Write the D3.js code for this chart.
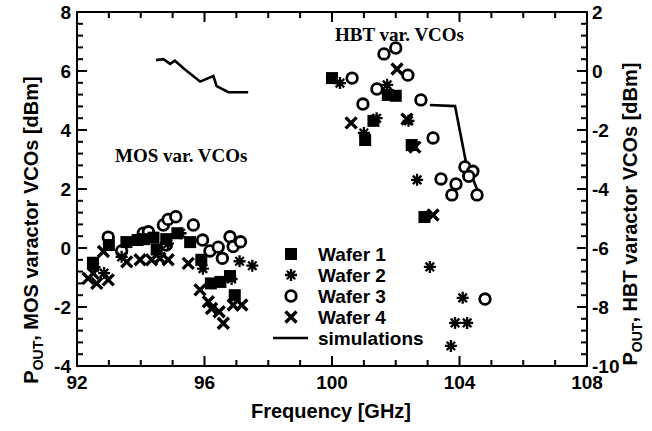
<!DOCTYPE html>
<html>
<head>
<meta charset="utf-8">
<script src="https://cdn.jsdelivr.net/npm/d3@7"></script>
<style>
  body { margin: 0; background: #fff; }
  svg { display: block; }
  .tick-label { font-family: "Liberation Sans", Arial, sans-serif; font-weight: bold; font-size: 19px; }
  .title { font-family: "Liberation Sans", Arial, sans-serif; font-weight: bold; font-size: 20px; }
  .note { font-family: "Liberation Serif", "Times New Roman", serif; font-weight: bold; font-size: 19px; }
</style>
</head>
<body>
<script>
"use strict";

const WIDTH = 652
const HEIGHT = 431

// MOS varactor VCOs (left axis) [GHz, dBm]
const mos_wafer1 = [[92.5,-0.5],[93.0,0.1],[93.55,0.2],[93.9,0.27],[94.1,0.3],[94.4,0.35],[94.5,-0.05],[94.8,0.3],[95.15,0.5],[95.55,0.2],[95.9,-0.4],[96.2,-1.2],[96.5,-1.15],[96.8,-0.95],[96.95,-1.6]]
const mos_wafer2 = [[92.55,-0.65],[92.85,-0.85],[93.4,-0.3],[94.85,0.15],[95.25,0.5],[95.95,-0.7],[96.85,-1.05],[97.1,-0.45],[97.5,-0.6]]
const mos_wafer3 = [[92.98,0.37],[93.4,-0.1],[94.08,0.5],[94.24,0.55],[94.71,0.78],[94.86,0.97],[95.1,1.06],[94.8,0.1],[95.65,0.78],[95.94,0.27],[96.17,-0.1],[96.43,0.03],[96.56,-0.35],[96.8,0.38],[96.9,0.05],[97.13,0.21]]
const mos_wafer4 = [[92.51,-0.86],[92.62,-1.2],[92.98,-1.08],[92.35,-1.03],[92.83,-0.12],[93.56,-0.47],[93.98,-0.4],[94.34,-0.4],[94.6,-0.35],[94.86,-0.4],[95.49,-0.52],[95.86,-1.42],[96.12,-1.82],[96.22,-2.05],[96.46,-2.16],[96.59,-2.55],[96.9,-1.93],[97.17,-1.93]]
const mos_sim = [[94.48,6.37],[94.71,6.4],[94.92,6.24],[95.07,6.35],[95.34,6.09],[95.86,5.64],[96.28,5.83],[96.38,5.49],[96.75,5.28],[97.37,5.28]]

// HBT varactor VCOs (right axis) [GHz, dBm]
const hbt_wafer1 = [[100.0,-0.24],[101.04,-2.34],[101.75,-0.81],[102.0,-0.84],[101.3,-1.69],[102.5,-2.51],[102.9,-4.95]]
const hbt_wafer2 = [[100.25,-0.41],[101.73,-0.47],[101.4,-1.6],[101.0,-2.1],[102.4,-1.69],[102.67,-3.69],[103.07,-6.64],[104.1,-7.69],[103.86,-8.54],[104.24,-8.54],[103.73,-9.32]]
const hbt_wafer3 = [[100.63,-0.24],[100.97,-1.12],[101.41,-0.61],[101.63,0.58],[102.0,0.78],[102.38,-0.14],[102.79,-0.98],[103.17,-2.27],[103.42,-3.66],[104.17,-3.25],[104.42,-3.4],[104.29,-3.57],[103.89,-3.83],[103.76,-4.2],[104.55,-4.2],[104.8,-7.73]]
const hbt_wafer4 = [[100.6,-1.76],[102.04,0.07],[102.35,-1.63],[102.6,-2.58],[103.17,-4.88]]
const hbt_sim = [[103.07,-1.15],[103.86,-1.19],[104.2,-3.08],[104.64,-4.24]]

const x_ticks = [92, 96, 100, 104, 108]
const left_ticks = [-4, -2, 0, 2, 4, 6, 8]
const right_ticks = [-10, -8, -6, -4, -2, 0, 2]
const legend_labels = ["Wafer 1", "Wafer 2", "Wafer 3", "Wafer 4", "simulations"]

const margin = { left: 77, right: 65, top: 12, bottom: 65 }
const x = d3.scaleLinear().domain([92, 108]).range([margin.left, WIDTH - margin.right])
const yl = d3.scaleLinear().domain([-4, 8]).range([HEIGHT - margin.bottom, margin.top])
const yr = d3.scaleLinear().domain([-10, 2]).range([HEIGHT - margin.bottom, margin.top])

const svg = d3.select("body").append("svg")
    .attr("width", WIDTH)
    .attr("height", HEIGHT)

// frame
svg.append("rect")
    .attr("x", x(92)).attr("y", yl(8))
    .attr("width", x(108) - x(92)).attr("height", yl(-4) - yl(8))
    .attr("fill", "none").attr("stroke", "#000").attr("stroke-width", 2)

// inward ticks, minor ones included
function ticks(axis, scale, major, minorStep) {
    const [a, b] = scale.domain()
    const n = Math.round((b - a) / minorStep)
    const vals = d3.range(n + 1).map(i => a + i * minorStep)
    const g = svg.append("g").attr("stroke", "#000").attr("stroke-width", 2)
    vals.forEach(v => {
        const isMajor = major.some(m => Math.abs(m - v) < 1e-6)
        const len = isMajor ? 10 : 6
        const p = scale(v)
        if (axis == "bottom") g.append("line").attr("x1", p).attr("x2", p).attr("y1", yl(-4)).attr("y2", yl(-4) - len)
        if (axis == "top") g.append("line").attr("x1", p).attr("x2", p).attr("y1", yl(8)).attr("y2", yl(8) + len)
        if (axis == "left") g.append("line").attr("y1", p).attr("y2", p).attr("x1", x(92)).attr("x2", x(92) + len)
        if (axis == "right") g.append("line").attr("y1", p).attr("y2", p).attr("x1", x(108)).attr("x2", x(108) - len)
    })
}
ticks("bottom", x, x_ticks, 1)
ticks("top", x, x_ticks, 1)
ticks("left", yl, left_ticks, 0.4)
ticks("right", yr, right_ticks, 0.4)

// tick labels
svg.append("g").selectAll("text").data(x_ticks).join("text")
    .attr("class", "tick-label")
    .attr("x", d => x(d)).attr("y", 389)
    .attr("text-anchor", "middle")
    .text(d => d)
svg.append("g").selectAll("text").data(left_ticks).join("text")
    .attr("class", "tick-label")
    .attr("x", 71).attr("y", d => yl(d) + 7)
    .attr("text-anchor", "end")
    .text(d => d)
svg.append("g").selectAll("text").data(right_ticks).join("text")
    .attr("class", "tick-label")
    .attr("x", 592).attr("y", d => yr(d) + 7)
    .attr("text-anchor", "start")
    .text(d => d)

// axis titles
svg.append("text")
    .attr("class", "title")
    .attr("x", x(100) - 1).attr("y", 418)
    .attr("text-anchor", "middle")
    .text("Frequency [GHz]")

function yTitle(cx, cy, label) {
    const t = svg.append("text")
        .attr("class", "title")
        .attr("transform", `translate(${cx},${cy}) rotate(-90)`)
        .attr("text-anchor", "middle")
    t.append("tspan").text("P")
    t.append("tspan").attr("font-size", 14).attr("dy", 5).text("OUT")
    t.append("tspan").attr("dy", -5).text(", " + label + " [dBm]")
}
yTitle(38, 230, "MOS varactor VCOs")
yTitle(637, 214, "HBT varactor VCOs")

// annotations
svg.append("text").attr("class", "note")
    .attr("x", 115).attr("y", 162)
    .text("MOS var. VCOs")
svg.append("text").attr("class", "note")
    .attr("x", 335).attr("y", 41)
    .text("HBT var. VCOs")

// markers
const markers = {
    square: g => g.append("rect").attr("x", -6).attr("y", -6).attr("width", 12).attr("height", 12).attr("fill", "#000"),
    star: g => {
        const s = 6, d = s * Math.SQRT1_2
        g.append("path")
            .attr("d", `M${-s},0L${s},0M0,${-s}L0,${s}M${-d},${-d}L${d},${d}M${-d},${d}L${d},${-d}`)
            .attr("stroke", "#000").attr("stroke-width", 2.3).attr("fill", "none")
    },
    circle: g => g.append("circle").attr("r", 5.3).attr("fill", "#fff").attr("stroke", "#000").attr("stroke-width", 2.8),
    cross: g => g.append("path")
        .attr("d", "M-5.5,-5.5L5.5,5.5M-5.5,5.5L5.5,-5.5")
        .attr("stroke", "#000").attr("stroke-width", 3.4).attr("fill", "none")
}

const line = (ys) => d3.line().x(d => x(d[0])).y(d => ys(d[1]))
svg.append("path").datum(mos_sim).attr("d", line(yl))
    .attr("fill", "none").attr("stroke", "#000").attr("stroke-width", 2.6)
svg.append("path").datum(hbt_sim).attr("d", line(yr))
    .attr("fill", "none").attr("stroke", "#000").attr("stroke-width", 2.6)

function scatter(data, ys, kind) {
    data.forEach(d => {
        const g = svg.append("g").attr("transform", `translate(${x(d[0])},${ys(d[1])})`)
        markers[kind](g)
    })
}
scatter(mos_wafer3, yl, "circle")
scatter(hbt_wafer3, yr, "circle")
scatter(mos_wafer1, yl, "square")
scatter(hbt_wafer1, yr, "square")
scatter(mos_wafer4, yl, "cross")
scatter(hbt_wafer4, yr, "cross")
scatter(mos_wafer2, yl, "star")
scatter(hbt_wafer2, yr, "star")

// legend
const legend_y = [255, 276, 297, 318, 339]
const kinds = ["square", "star", "circle", "cross"]
legend_labels.forEach((label, i) => {
    if (i < 4) {
        const g = svg.append("g").attr("transform", `translate(291,${legend_y[i] - 1})`)
        markers[kinds[i]](g)
    } else {
        svg.append("line").attr("x1", 273).attr("x2", 308)
            .attr("y1", legend_y[i] - 1).attr("y2", legend_y[i] - 1)
            .attr("stroke", "#000").attr("stroke-width", 2.6)
    }
    svg.append("text")
        .attr("class", "tick-label")
        .attr("x", 318).attr("y", legend_y[i] + 6)
        .text(label)
})
</script>
</body>
</html>
